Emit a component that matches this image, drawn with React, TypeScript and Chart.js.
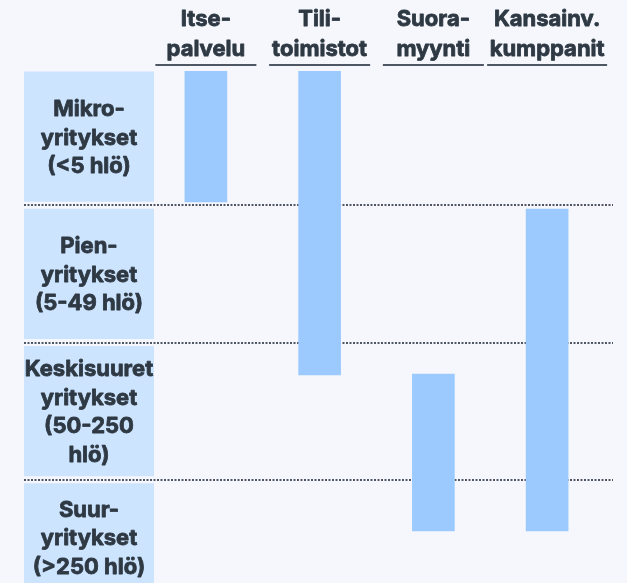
import React, { useEffect, useRef } from "react";
import { Chart, registerables } from "chart.js";

Chart.register(...registerables);

// Column (channel) headers, each split in two lines
const channelLines: string[][] = [
  ["Itse-", "palvelu"],
  ["Tili-", "toimistot"],
  ["Suora-", "myynti"],
  ["Kansainv.", "kumppanit"],
];
const channels = channelLines.map((l) => l.join(""));

// Row (company size) labels
const segmentLines: string[][] = [
  ["Mikro-", "yritykset", "(<5 hlö)"],
  ["Pien-", "yritykset", "(5-49 hlö)"],
  ["Keskisuuret", "yritykset", "(50-250", "hlö)"],
  ["Suur-", "yritykset", "(>250 hlö)"],
];

// Coverage ranges along the segment axis (row units: 0 = top of Mikro, 4 = bottom of Suur)
const rangeStart = [0.025, 0.025, 2.23, 1.027];
const rangeEnd = [0.975, 2.237, 3.373, 3.373];

const W = 627;
const H = 620;
const VIEW_H = 583;
const VIS_BOTTOM = 591;
const FONT = "700 22px Inter";
const TEXT = "#2e3944";
const BG = "#f5f7fc";

function boldText(ctx: CanvasRenderingContext2D, t: string, x: number, y: number) {
  ctx.fillText(t, x, y);
  ctx.strokeText(t, x, y);
}

const overlay = {
  id: "overlay",
  beforeDatasetsDraw(chart: any) {
    const ctx: CanvasRenderingContext2D = chart.ctx;
    const y = chart.scales.y;
    const x = chart.scales.x;
    ctx.save();
    // row label boxes
    const inset = 3.5;
    const boxL = 24;
    const boxR = 154;
    segmentLines.forEach((lines, i) => {
      const top = y.getPixelForValue(i) + inset;
      const bot = y.getPixelForValue(i + 1) - inset;
      ctx.fillStyle = "#cde4fe";
      ctx.fillRect(boxL, top, boxR - boxL, bot - top);
      const cy = (top + Math.min(bot, VIS_BOTTOM)) / 2;
      ctx.fillStyle = TEXT;
      ctx.strokeStyle = TEXT;
      ctx.lineWidth = 0.8;
      ctx.lineJoin = "round";
      ctx.font = FONT;
      ctx.textAlign = "center";
      ctx.textBaseline = "alphabetic";
      const lh = 28.5;
      lines.forEach((t, k) => {
        boldText(ctx, t, (boxL + boxR) / 2, cy + (k - (lines.length - 1) / 2) * lh + 8);
      });
    });
    // dotted separators
    ctx.strokeStyle = "#4f5764";
    ctx.lineWidth = 2;
    ctx.setLineDash([2, 1.5]);
    for (let i = 1; i < segmentLines.length; i++) {
      const py = Math.round(y.getPixelForValue(i));
      ctx.beginPath();
      ctx.moveTo(24, py);
      ctx.lineTo(613, py);
      ctx.stroke();
    }
    ctx.setLineDash([]);
    // column headers
    ctx.font = FONT;
    ctx.fillStyle = TEXT;
    ctx.strokeStyle = TEXT;
    ctx.lineWidth = 0.8;
    ctx.textAlign = "center";
    ctx.textBaseline = "alphabetic";
    channelLines.forEach((lines, i) => {
      const cx = x.getPixelForValue(i);
      boldText(ctx, lines[0], cx, 26);
      boldText(ctx, lines[1], cx, 56);
      const tw = Math.max(...lines.map((t) => ctx.measureText(t).width));
      const uw = Math.max(101, tw + 5);
      ctx.fillStyle = "#4f5764";
      ctx.fillRect(cx - uw / 2, 64, uw, 2);
      ctx.fillStyle = TEXT;
    });
    ctx.restore();
  },
};

export default function App() {
  const ref = useRef<HTMLCanvasElement>(null);
  useEffect(() => {
    if (!ref.current) return;
    const chart = new Chart(ref.current, {
      type: "bar",
      data: {
        labels: channels,
        datasets: [
          {
            data: rangeStart.map((s, i) => [s, rangeEnd[i]]) as any,
            backgroundColor: "#9ccaff",
            borderWidth: 0,
            barThickness: 42,
          },
        ],
      },
      options: {
        animation: false,
        responsive: false,
        devicePixelRatio: 1,
        layout: { padding: { left: 149, right: 23, top: 68, bottom: 3 } },
        plugins: { legend: { display: false }, tooltip: { enabled: false } },
        scales: {
          x: { type: "category", display: false, offset: true },
          y: { type: "linear", display: false, reverse: true, min: 0, max: 4 },
        },
      },
      plugins: [overlay],
    });
    return () => chart.destroy();
  }, []);
  return (
    <div
      style={{
        position: "fixed",
        left: 0,
        top: 0,
        width: W,
        height: VIEW_H,
        overflow: "hidden",
        background: BG,
      }}
    >
      <canvas ref={ref} width={W} height={H} style={{ width: W, height: H, display: "block" }} />
    </div>
  );
}
